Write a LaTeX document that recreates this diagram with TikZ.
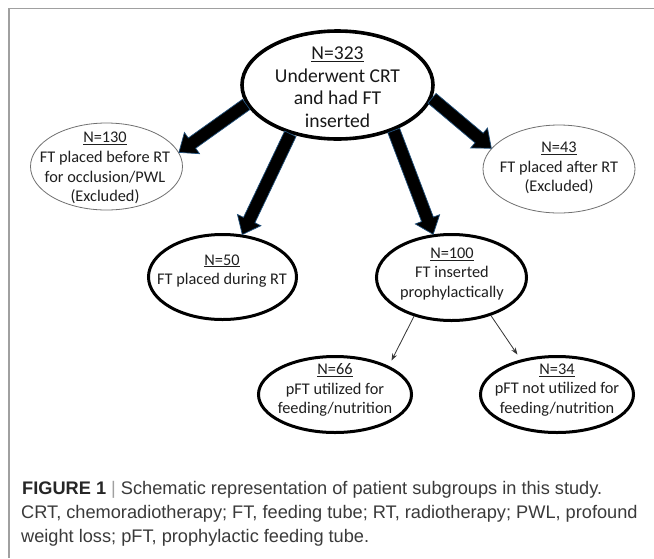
\documentclass[tikz,border=0pt]{standalone}
\usepackage{fontspec}
\setmainfont{Carlito}
\newfontfamily\capfont{Liberation Sans}
\usetikzlibrary{arrows.meta,shapes.geometric,calc}
\definecolor{arrowblue}{HTML}{1F4E79}
\definecolor{framegray}{HTML}{A0A0A0}
\definecolor{capgray}{HTML}{3A3A3A}
\definecolor{ellgray}{HTML}{707070}
\newcommand\fatarrow[2]{%
  \path let \p1=($(#2)-(#1)$) in \pgfextra{%
    \pgfmathsetmacro\faangtmp{atan2(\y1,\x1)}\xdef\faang{\faangtmp}%
    \pgfmathsetmacro\falentmp{veclen(\x1,\y1)}\xdef\falen{\falentmp}};
  \draw[fatshaft, shift={(#1)}, rotate=\faang] (0,6.3) -- ({\falen-16},6.3) -- ({\falen-16},13)
     -- (\falen,0) -- ({\falen-16},-13) -- ({\falen-16},-6.3) -- (0,-6.3) -- cycle;
}
\begin{document}
\begin{tikzpicture}[x=1pt,y=-1pt,
  thickell/.style={ellipse, draw=black, line width=3pt, inner sep=0pt},
  thinell/.style={ellipse, draw=ellgray, line width=0.8pt, inner sep=0pt},
  lbl/.style={align=center, text=black!88, inner sep=0pt, font=\fontsize{16.3}{19.7}\selectfont},
  toplbl/.style={align=center, text=black!90, inner sep=0pt, font=\fontsize{19.6}{22.5}\selectfont},
  fatshaft/.style={fill=black, draw=arrowblue, line width=0.7pt, line join=miter},
  thinarrow/.style={draw=black!80, line width=0.8pt, -{Stealth[length=7pt,width=5pt]}, shorten >=6pt},
  capline/.style={anchor=base west, inner sep=0pt, text=capgray, font=\capfont\fontsize{18.2}{24}\selectfont}]
\useasboundingbox (0,0) rectangle (654,558);
\fill[white] (0,0) rectangle (654,558);
% frame
\draw[framegray, line width=1.6pt] (9,558) -- (9,8.6) -- (654,8.6);
% ellipses
\node[thickell, line width=3.6pt, minimum width=191pt, minimum height=108pt] (top) at (337.5,85) {};
\node[thinell, minimum width=152pt, minimum height=87pt] (n130) at (106.5,166.5) {};
\node[thinell, minimum width=152pt, minimum height=88pt] (n43) at (559,169) {};
\node[thickell, minimum width=148pt, minimum height=85pt] (n50) at (222.5,277) {};
\node[thickell, minimum width=150pt, minimum height=86pt] (n100) at (451.5,277.5) {};
\node[thickell, minimum width=153pt, minimum height=76pt] (n66) at (335,394.5) {};
\node[thickell, minimum width=153pt, minimum height=76pt] (n34) at (557,394.5) {};
% texts
\node[toplbl] (ttop) at (337.5,87) {\underline{N=323}\\Underwent CRT\\and had FT\\inserted};
\node[lbl] (t130) at (105,168) {\underline{N=130}\\FT placed before RT\\for occlusion/PWL\\(Excluded)};
\node[lbl] (t43) at (559,168) {\underline{N=43}\\FT placed after RT\\(Excluded)};
\node[lbl] (t50) at (222,271) {\underline{N=50}\\FT placed during RT};
\node[lbl] (t100) at (452,274) {\underline{N=100}\\FT inserted\\prophylactically};
\node[lbl] (t66) at (335,390) {\underline{N=66}\\pFT utilized for\\feeding/nutrition};
\node[lbl] (t34) at (557,390) {\underline{N=34}\\pFT not utilized for\\feeding/nutrition};
% thick arrows
\fatarrow{top.192}{n130.11}
\fatarrow{top.226}{n50.65}
\fatarrow{top.321}{n100.113}
\fatarrow{top.352}{n43.163}
% thin arrows
\draw[thinarrow] (n100.226) -- (n66.28);
\draw[thinarrow] (n100.316) -- (n34.136);
% caption
\node[capline] (c1) at (22,494) {\textbf{\color{black!85}FIGURE 1} {\color{framegray}|} Schematic representation of patient subgroups in this study.};
\node[capline] (c2) at (21,518) {CRT, chemoradiotherapy; FT, feeding tube; RT, radiotherapy; PWL, profound};
\node[capline] (c3) at (21,542) {weight loss; pFT, prophylactic feeding tube.};
\end{tikzpicture}
\end{document}
